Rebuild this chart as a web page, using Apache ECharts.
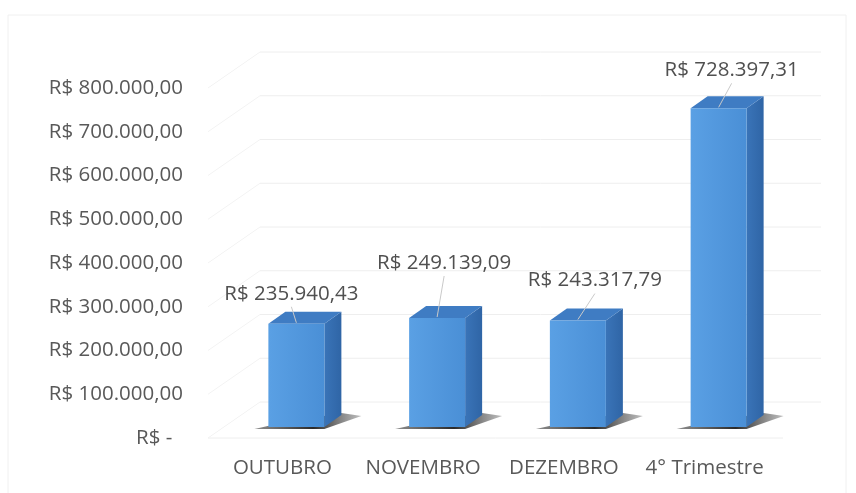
<!DOCTYPE html>
<html>
<head>
<meta charset="utf-8">
<script src="https://cdn.jsdelivr.net/npm/echarts@6/dist/echarts.min.js"></script>
<style>
  html, body { margin: 0; padding: 0; background: #fff; }
  #chart { width: 856px; height: 493px; }
</style>
</head>
<body>
<div id="chart"></div>
<script>
// Faturamento 4º trimestre — Excel-style 3D column chart redrawn with a custom series.
const categories = ["OUTUBRO", "NOVEMBRO", "DEZEMBRO", "4° Trimestre"];
const values = [235940.43, 249139.09, 243317.79, 728397.31];
const ticks = [0, 100000, 200000, 300000, 400000, 500000, 600000, 700000, 800000];

// label nudges (px, from the top-centre of each column's front face) — Excel labels were dragged by hand
const LABEL_NUDGE = [[-5, -30], [7, -55], [17, -40], [13, -38]];

const FONT = '20.5px "Open Sans", sans-serif';
const TXT = "#595959";

function brl(v) {
  if (!v) return "R$ -  ";
  const [i, d] = v.toFixed(2).split(".");
  return "R$ " + i.replace(/\B(?=(\d{3})+(?!\d))/g, ".") + "," + d;
}

// back wall + side wall gridlines (perspective offset)
function renderGrid(params, api) {
  const cs = params.coordSys;
  const y = api.coord([0, api.value(1)])[1];
  const x0 = cs.x, x1 = cs.x + cs.width;
  const wdx = 48, wdy = -36;
  const st = { stroke: "#eeeeee", lineWidth: 1 };
  const kids = [
    { type: "line", shape: { x1: x0 - 4, y1: y, x2: x0 + wdx, y2: y + wdy }, style: { stroke: "#f3f3f3", lineWidth: 1 } },
    { type: "line", shape: { x1: x0 + wdx, y1: y + wdy, x2: x1 + wdx - 2, y2: y + wdy }, style: st },
  ];
  if (api.value(1) === 0) {
    kids.push({ type: "line", shape: { x1: x0 - 4, y1: y, x2: x1 + 8, y2: y }, style: st });
  }
  return { type: "group", children: kids };
}

function renderBar(params, api) {
  const i = api.value(0), v = api.value(1);
  const c = api.coord([i, v]), b = api.coord([i, 0]);
  const fw = 56, ox = 14, oy = -11, dx = 17, dy = -12;
  const fx = c[0] + ox;
  const L = fx - fw / 2, R = fx + fw / 2, T = c[1] + oy, B = b[1] + oy;
  const [nx, ny] = LABEL_NUDGE[params.dataIndex];
  return {
    type: "group",
    children: [
      { type: "polygon", shape: { points: [[L - 14, B + 2], [R, B + 2], [R + dx + 20, B + dy + 1], [R + dx, B + dy - 2], [L + 4, B - 2]] },
        style: { fill: new echarts.graphic.LinearGradient(0, 0, 1, 0, [{ offset: 0, color: "rgba(50,50,50,0.55)" }, { offset: 0.55, color: "rgba(30,30,30,0.95)" }, { offset: 1, color: "rgba(70,70,70,0.35)" }]) } },
      { type: "polygon", shape: { points: [[R, T], [R + dx, T + dy], [R + dx, B + dy], [R, B]] },
        style: { fill: new echarts.graphic.LinearGradient(0, 0, 1, 0, [{ offset: 0, color: "#3a74b8" }, { offset: 1, color: "#2f65a6" }]) } },
      { type: "polygon", shape: { points: [[L, T], [L + dx, T + dy], [R + dx, T + dy], [R, T]] },
        style: { fill: "#3f7cc3" } },
      { type: "rect", shape: { x: L, y: T, width: fw, height: B - T },
        style: { fill: new echarts.graphic.LinearGradient(0, 0, 1, 0, [{ offset: 0, color: "#5aa0e4" }, { offset: 1, color: "#4a8fd6" }]) } },
      { type: "line", shape: { x1: fx + nx, y1: T + ny + 13, x2: fx, y2: T - 1 },
        style: { stroke: "#c9c9c9", lineWidth: 1 } },
      { type: "text", style: { text: brl(v), x: fx + nx, y: T + ny, align: "center", verticalAlign: "middle", font: FONT, fill: "#505050" } },
    ],
  };
}

const chart = echarts.init(document.getElementById("chart"));
chart.setOption({
  animation: false,
  grid: { left: 212, right: 81, top: 88, bottom: 55 },
  graphic: [{ type: "rect", shape: { x: 8, y: 15, width: 838, height: 490 }, style: { fill: "none", stroke: "#f0f0f0", lineWidth: 1 }, z: -10 }],
  xAxis: {
    type: "category", data: categories,
    axisLine: { show: false }, axisTick: { show: false },
    axisLabel: { color: TXT, fontFamily: "Open Sans", fontSize: 20.5, margin: 20, interval: 0 },
  },
  yAxis: {
    type: "value", min: 0, max: 800000, interval: 100000,
    axisLine: { show: false }, axisTick: { show: false }, splitLine: { show: false },
    axisLabel: { color: TXT, fontFamily: "Open Sans", fontSize: 20.5, margin: 29, formatter: brl },
  },
  series: [
    { type: "custom", silent: true, z: 1, renderItem: renderGrid, data: ticks.map((t) => [0, t]) },
    { type: "custom", z: 3, renderItem: renderBar, data: values.map((v, i) => [i, v]) },
  ],
});
</script>
</body>
</html>
